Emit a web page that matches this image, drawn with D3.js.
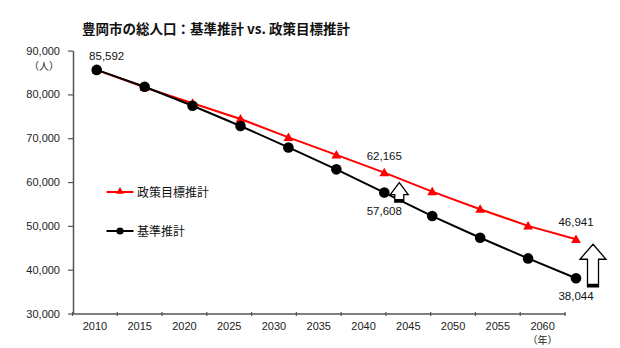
<!DOCTYPE html>
<html><head><meta charset="utf-8">
<script src="https://cdn.jsdelivr.net/npm/d3@7"></script>
<style>
body{margin:0;background:#fff;}
text{font-family:"Liberation Sans","Noto Sans CJK JP",sans-serif;}
.jp{font-family:"Noto Sans CJK JP","Liberation Sans",sans-serif;}
</style></head>
<body><svg id="c" width="620" height="348"></svg>
<script>
const years = ["2010","2015","2020","2025","2030","2035","2040","2045","2050","2055","2060"];
const policyValues = [85592, 81600, 78000, 74400, 70200, 66200, 62165, 57800, 53800, 50000, 46941];
const baseValues   = [85592, 81760, 77420, 72800, 67900, 62900, 57608, 52240, 47280, 42580, 38044];
const yTicks = [30000, 40000, 50000, 60000, 70000, 80000, 90000];
const title = "豊岡市の総人口：基準推計 vs. 政策目標推計";
const seriesNames = ["政策目標推計", "基準推計"];
const labelledPolicy = ["2040", "2060"];
const labelledBase = ["2010", "2040", "2060"];

const svg = d3.select("#c");
const y = d3.scaleLinear().domain([30000, 90000]).range([313.5, 50.6]);
const xAxisScale = d3.scaleBand().domain(years).range([72.5, 565]);
const x = d3.scalePoint().domain(years).range([96.7, 576]);
const fmt = d3.format(",");
const axisColor = "#555";

// title
svg.append("text").attr("class","jp").attr("x", 82).attr("y", 34)
  .attr("font-size", 13.5).attr("font-weight", "bold").attr("fill", "#111").text(title);

// y axis
const ya = svg.append("g").attr("transform", "translate(73,0)")
  .call(d3.axisLeft(y).tickValues(yTicks).tickFormat(fmt).tickSize(5).tickPadding(8).tickSizeOuter(0));
ya.select(".domain").attr("stroke", axisColor).attr("stroke-width", 1.5);
ya.selectAll(".tick line").attr("stroke", axisColor).attr("stroke-width", 1.2);
ya.selectAll(".tick text").attr("font-size", 11).attr("fill", "#222")
  .style("font-family", "Liberation Sans, sans-serif");
svg.append("text").attr("class","jp").attr("x", 44).attr("y", 70).attr("text-anchor","middle")
  .attr("font-size", 10).attr("fill","#222").text("（人）");

// x axis
const xa = svg.append("g").attr("transform", `translate(0,${y(30000)})`)
  .call(d3.axisBottom(xAxisScale).tickSize(0).tickPadding(9).tickSizeOuter(0));
xa.select(".domain").attr("stroke", axisColor).attr("stroke-width", 1.5);
xa.selectAll(".tick text").attr("font-size", 11).attr("fill", "#222")
  .style("font-family", "Liberation Sans, sans-serif");
// tick marks at band boundaries
const bounds = years.map(d => xAxisScale(d)).concat([xAxisScale(years[years.length-1]) + xAxisScale.bandwidth()]);
svg.append("g").selectAll("line").data(bounds).join("line")
  .attr("x1", d => d).attr("x2", d => d).attr("y1", y(30000) - 1.5).attr("y2", y(30000) + 2.5)
  .attr("stroke", axisColor).attr("stroke-width", 1.2);
svg.append("text").attr("class","jp")
  .attr("x", xAxisScale("2060") + xAxisScale.bandwidth()/2).attr("y", 344).attr("text-anchor","middle")
  .attr("font-size", 10).attr("fill","#222").text("（年）");

// lines
const policy = years.map((d,i) => ({year:d, v:policyValues[i]}));
const base = years.map((d,i) => ({year:d, v:baseValues[i]}));
const line = d3.line().x(d => x(d.year)).y(d => y(d.v));

svg.append("path").datum(policy).attr("d", line).attr("fill","none").attr("stroke","#ff0000").attr("stroke-width",2);
const tri = d3.symbol().type(d3.symbolTriangle).size(42);
svg.append("g").selectAll("path").data(policy).join("path")
  .attr("d", tri).attr("transform", d => `translate(${x(d.year)},${y(d.v)+0.8})`).attr("fill","#ff0000");

svg.append("path").datum(base).attr("d", line).attr("fill","none").attr("stroke","#000").attr("stroke-width",2);
svg.append("g").selectAll("circle").data(base).join("circle")
  .attr("cx", d => x(d.year)).attr("cy", d => y(d.v)).attr("r", 5.3).attr("fill","#000");

// data labels
const lab = (d, dx, dy) => svg.append("text").attr("x", x(d.year)+dx).attr("y", y(d.v)+dy)
  .attr("text-anchor","middle").attr("font-size", 11.5).attr("fill","#111").text(fmt(d.v));
policy.filter(d => labelledPolicy.includes(d.year)).forEach(d => lab(d, 0, -13));
base.filter(d => labelledBase.includes(d.year)).forEach(d => {
  if (d.year === "2010") lab(d, 10, -10);
  else lab(d, 0, 22);
});

// hollow arrows
function arrow(cx, yTip, yBot, headW, shaftW, headH) {
  const p = d3.path();
  p.moveTo(cx, yTip);
  p.lineTo(cx + headW/2, yTip + headH);
  p.lineTo(cx + shaftW/2, yTip + headH);
  p.lineTo(cx + shaftW/2, yBot);
  p.lineTo(cx - shaftW/2, yBot);
  p.lineTo(cx - shaftW/2, yTip + headH);
  p.lineTo(cx - headW/2, yTip + headH);
  p.closePath();
  svg.append("path").attr("d", p.toString()).attr("fill","#fff").attr("stroke","#000").attr("stroke-width",1.3);
  svg.append("rect").attr("x", cx - shaftW/2).attr("y", yBot - 3).attr("width", shaftW).attr("height", 3).attr("fill","#000");
}
arrow(x("2040") + 15, y(62165) + 10, y(57608) + 9.5, 18, 9, 12);
arrow(x("2060") + 17, y(46941) + 5, y(38044) + 8.5, 26, 11, 15);

// legend
const leg = svg.append("g");
const legItems = [
  {name: seriesNames[0], color: "#ff0000", sym: "tri", yy: 192},
  {name: seriesNames[1], color: "#000", sym: "circ", yy: 231}
];
legItems.forEach(it => {
  leg.append("line").attr("x1", 106.5).attr("x2", 133.5).attr("y1", it.yy).attr("y2", it.yy)
    .attr("stroke", it.color).attr("stroke-width", 2);
  if (it.sym === "tri") leg.append("path").attr("d", d3.symbol().type(d3.symbolTriangle).size(26)())
    .attr("transform", `translate(120,${it.yy - 0.5})`).attr("fill", it.color);
  else leg.append("circle").attr("cx", 120).attr("cy", it.yy).attr("r", 3.6).attr("fill", it.color);
  leg.append("text").attr("class","jp").attr("x", 137).attr("y", it.yy + 4.5)
    .attr("font-size", 12).attr("fill","#111").text(it.name);
});
</script></body></html>
